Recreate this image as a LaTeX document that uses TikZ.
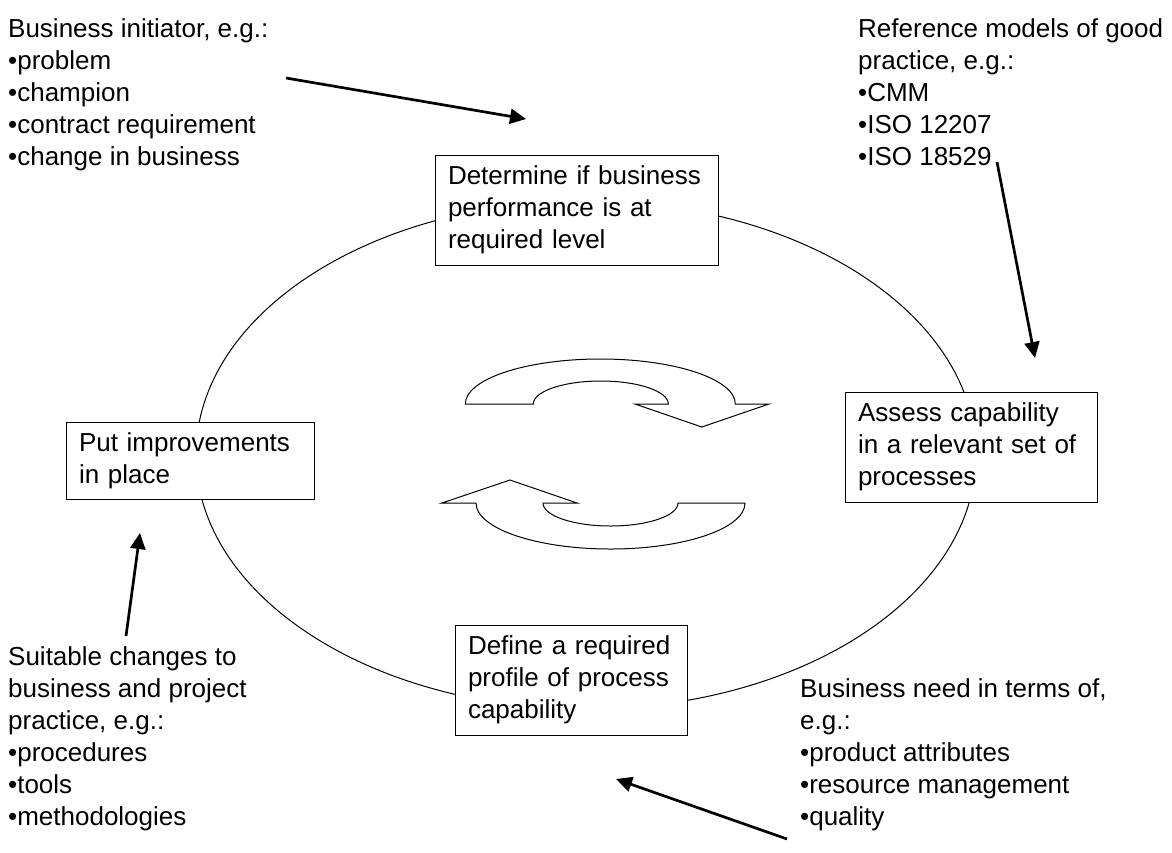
\documentclass[tikz,border=0pt]{standalone}
\usepackage{fontspec}
\setmainfont{Liberation Sans}
\usetikzlibrary{arrows.meta}
\tikzset{stepbox/.style={draw=black,line width=1pt,fill=white,rectangle,
    align=left,inner xsep=13pt,inner ysep=0pt,minimum height=110pt,
    font=\fontsize{26}{32}\selectfont}}
\tikzset{note/.style={align=left,inner sep=0pt,anchor=north west,
    font=\fontsize{26}{32}\selectfont}}
\tikzset{push/.style={line width=2.7pt,-{Triangle[length=16pt,width=15pt]}}}
\tikzset{turn/.style={draw=black,line width=1pt,fill=white}}

\begin{document}
\begin{tikzpicture}[x=1pt,y=-1pt]
    \useasboundingbox (0,0) rectangle (1172,852);
    % the cycle
    \draw[line width=1pt] (586,455) ellipse [x radius=390,y radius=254];
    \node[stepbox,text width=257pt] (determine) at (576.5,210)
      {Determine if business\\performance is at\\required level};
    \node[stepbox,text width=226pt] (assess) at (971,447)
      {Assess capability\\in a relevant set of\\processes};
    \node[stepbox,text width=206pt] (define) at (571,680)
      {Define a required\\profile of process\\capability};
    \node[stepbox,text width=222pt,minimum height=77pt] (improve) at (190,460.5)
      {Put improvements\\in place};
    % turning arrows in the middle
    \draw[turn] (465.3,404) arc[start angle=180,end angle=360,x radius=135,y radius=45]
      -- (769,404) -- (701.8,427) -- (635,404) -- (668.3,404)
      arc[start angle=0,end angle=-180,x radius=67.5,y radius=23] -- cycle;
    \draw[turn] (577,503) -- (510,480) -- (442,503) -- (476,503)
      arc[start angle=180,end angle=0,x radius=134.5,y radius=46]
      -- (678,503) arc[start angle=0,end angle=180,x radius=67.5,y radius=23] -- cycle;
    % inputs
    \node[note] (initiator) at (8,18)
      {Business initiator, e.g.:\\\textbullet problem\\\textbullet champion\\
       \textbullet contract requirement\\\textbullet change in business};
    \node[note] (models) at (858,18)
      {Reference models of good\\practice, e.g.:\\\textbullet CMM\\
       \textbullet ISO 12207\\\textbullet ISO 18529};
    \node[note] (changes) at (8,646)
      {Suitable changes to\\business and project\\practice, e.g.:\\
       \textbullet procedures\\\textbullet tools\\\textbullet methodologies};
    \node[note] (need) at (800,678)
      {Business need in terms of,\\e.g.:\\\textbullet product attributes\\
       \textbullet resource management\\\textbullet quality};
    \coordinate (initiatorend) at (286,78);
    \coordinate (initiatortip) at (526,119);
    \coordinate (modelsend) at (997,162);
    \coordinate (modelstip) at (1035,358);
    \coordinate (needend) at (787,839);
    \coordinate (needtip) at (616,779);
    \coordinate (changesend) at (126,636);
    \coordinate (changestip) at (140,533);
    \draw[push] (initiatorend) -- (initiatortip);
    \draw[push] (modelsend) -- (modelstip);
    \draw[push] (needend) -- (needtip);
    \draw[push] (changesend) -- (changestip);
\end{tikzpicture}
\end{document}
